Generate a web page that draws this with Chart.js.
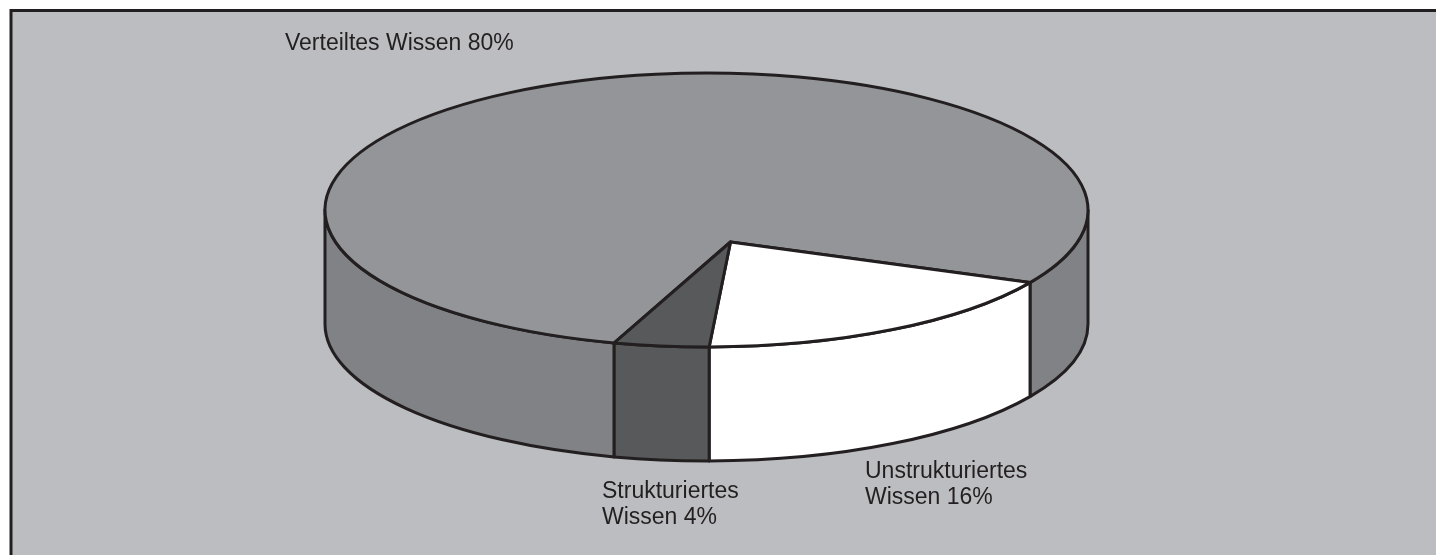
<!DOCTYPE html>
<html lang="de">
<head>
<meta charset="utf-8">
<title>Wissensverteilung</title>
<script src="https://cdn.jsdelivr.net/npm/chart.js@4/dist/chart.umd.min.js"></script>
<style>
    html, body { margin: 0; padding: 0; background: #ffffff; }
    canvas { display: block; }
</style>
</head>
<body>
<canvas id="pie-chart" width="1436" height="555"></canvas>
<script>
// Chart data
const categories = ['Verteiltes Wissen', 'Unstrukturiertes Wissen', 'Strukturiertes Wissen'];
const shares = [80, 16, 4];

// Colours for top face and side wall of each slice
const topColors = ['#939598', '#ffffff', '#58595b'];
const sideColors = ['#808285', '#ffffff', '#58595b'];

// 3D pie drawn from the arc elements Chart.js lays out
const pie3dPlugin = {
    id: 'pie3d',
    beforeDraw(chart) {
        const ctx = chart.ctx;
        ctx.save();
        ctx.fillStyle = '#ffffff';
        ctx.fillRect(0, 0, chart.width, chart.height);
        ctx.fillStyle = '#bcbdc1';
        ctx.fillRect(11, 10, chart.width, chart.height);
        ctx.strokeStyle = '#231f20';
        ctx.lineWidth = 3;
        ctx.strokeRect(11, 10.5, chart.width + 10, chart.height + 10);
        ctx.restore();
    },
    beforeDatasetsDraw(chart, args, opts) {
        const ctx = chart.ctx;
        const arcs = chart.getDatasetMeta(0).data;
        if (!arcs.length) return false;

        const cx = arcs[0].x;
        const cy = arcs[0].y;
        const rx = arcs[0].outerRadius;
        const ry = rx * opts.tilt;
        const depth = opts.depth;
        const apexX = cx + opts.apexShift.x;
        const apexY = cy + opts.apexShift.y;

        ctx.save();
        ctx.lineWidth = 3;
        ctx.lineJoin = 'round';
        ctx.strokeStyle = '#231f20';

        // side walls, only the front half (0..PI) is visible
        arcs.forEach((arc, i) => {
            const s = arc.startAngle;
            const e = arc.endAngle;
            for (let k = -1; k <= 2; k++) {
                const a1 = Math.max(s, k * 2 * Math.PI);
                const a2 = Math.min(e, k * 2 * Math.PI + Math.PI);
                if (a2 - a1 <= 0.0001) continue;
                ctx.beginPath();
                ctx.ellipse(cx, cy, rx, ry, 0, a1, a2);
                ctx.lineTo(cx + rx * Math.cos(a2), cy + depth + ry * Math.sin(a2));
                ctx.ellipse(cx, cy + depth, rx, ry, 0, a2, a1, true);
                ctx.closePath();
                ctx.fillStyle = sideColors[i];
                ctx.fill();
                ctx.stroke();
            }
        });

        // top faces
        arcs.forEach((arc, i) => {
            ctx.beginPath();
            ctx.moveTo(apexX, apexY);
            ctx.ellipse(cx, cy, rx, ry, 0, arc.startAngle, arc.endAngle);
            ctx.closePath();
            ctx.fillStyle = topColors[i];
            ctx.fill();
            ctx.stroke();
        });

        // slice labels
        ctx.fillStyle = '#231f20';
        ctx.font = '23px "Liberation Sans", Arial, sans-serif';
        ctx.textAlign = 'left';
        ctx.textBaseline = 'alphabetic';
        opts.labels.forEach((lab, i) => {
            const text = categories[i] + ' ' + shares[i] + '%';
            let lines = [text];
            if (lab.wrap) {
                const cut = text.indexOf(' ');
                lines = [text.slice(0, cut), text.slice(cut + 1)];
            }
            lines.forEach((line, j) => {
                ctx.fillText(line, lab.x, lab.y + j * 26);
            });
        });

        ctx.restore();
        return false;
    }
};

document.addEventListener('DOMContentLoaded', () => {
    const canvas = document.getElementById('pie-chart');
    new Chart(canvas, {
        type: 'pie',
        data: {
            labels: categories,
            datasets: [{
                data: shares,
                backgroundColor: topColors,
                borderWidth: 0
            }]
        },
        options: {
            responsive: false,
            animation: false,
            rotation: 194,
            radius: 381.5,
            layout: {
                padding: { left: 0, right: 23, top: 0, bottom: 135 }
            },
            plugins: {
                legend: { display: false },
                tooltip: { enabled: false },
                pie3d: {
                    tilt: 0.359,
                    depth: 114,
                    apexShift: { x: 24, y: 32 },
                    labels: [
                        { x: 285, y: 50, wrap: false },
                        { x: 865, y: 478, wrap: true },
                        { x: 602, y: 498, wrap: true }
                    ]
                }
            }
        },
        plugins: [pie3dPlugin]
    });
});
</script>
</body>
</html>
